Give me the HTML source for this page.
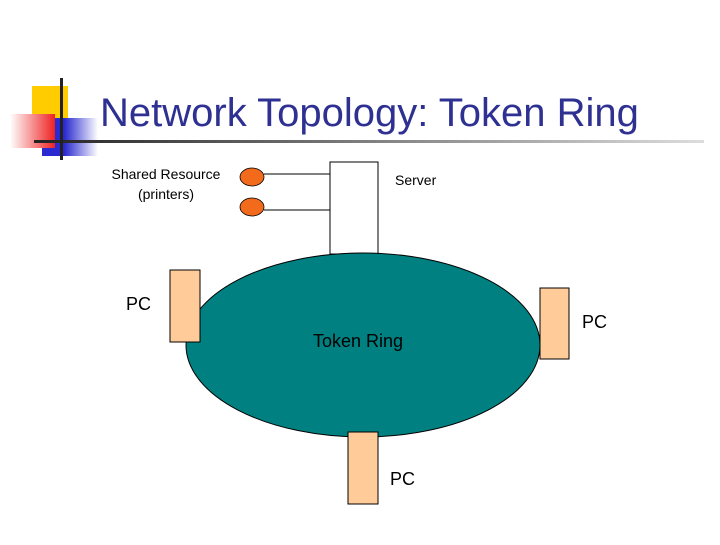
<!DOCTYPE html>
<html><head><style>
body{margin:0;width:720px;height:540px;background:#fff;overflow:hidden;font-family:"Liberation Sans",sans-serif;}
</style></head><body>
<svg width="720" height="540" xmlns="http://www.w3.org/2000/svg">
<defs>
<linearGradient id="ln" x1="0" x2="1"><stop offset="0" stop-color="#222"/><stop offset="1" stop-color="#ddd"/></linearGradient>
<linearGradient id="rd" x1="0" x2="1"><stop offset="0" stop-color="#fff"/><stop offset="1" stop-color="#e22"/></linearGradient>
<linearGradient id="bl" x1="0" x2="1"><stop offset="0.4" stop-color="#2a2ad0"/><stop offset="1" stop-color="#fff"/></linearGradient>
</defs>
<rect x="32" y="86" width="36" height="32" fill="#ffcc00"/>
<rect x="42" y="118" width="56" height="38" fill="url(#bl)"/>
<rect x="10" y="114" width="45" height="34" fill="url(#rd)"/>
<rect x="34" y="140" width="670" height="3" fill="url(#ln)"/>
<rect x="60" y="78" width="3" height="82" fill="#222"/>
<text x="100" y="126" font-size="40" fill="#2e3192">Network Topology: Token Ring</text>
<text x="166" y="179" font-size="14" text-anchor="middle" fill="#000">Shared Resource</text>
<text x="166" y="199" font-size="14" text-anchor="middle" fill="#000">(printers)</text>
<line x1="264" y1="174" x2="330" y2="174" stroke="#000"/>
<line x1="264" y1="210" x2="330" y2="210" stroke="#000"/>
<ellipse cx="252" cy="177" rx="12" ry="9" fill="#f26b1d" stroke="#000" stroke-width="0.8"/>
<ellipse cx="252" cy="207" rx="12" ry="9" fill="#f26b1d" stroke="#000" stroke-width="0.8"/>
<rect x="330" y="162" width="48" height="92" fill="#fff" stroke="#000"/>
<text x="395" y="185" font-size="14" fill="#000">Server</text>
<ellipse cx="363" cy="345" rx="177" ry="92" fill="#008080" stroke="#000"/>
<text x="313" y="347" font-size="18" fill="#000">Token Ring</text>
<rect x="170" y="270" width="30" height="72" fill="#ffcc99" stroke="#000"/>
<rect x="540" y="288" width="29" height="71" fill="#ffcc99" stroke="#000"/>
<rect x="348" y="432" width="30" height="72" fill="#ffcc99" stroke="#000"/>
<text x="126" y="310" font-size="18" fill="#000">PC</text>
<text x="582" y="328" font-size="18" fill="#000">PC</text>
<text x="390" y="485" font-size="18" fill="#000">PC</text>
</svg>
</body></html>
